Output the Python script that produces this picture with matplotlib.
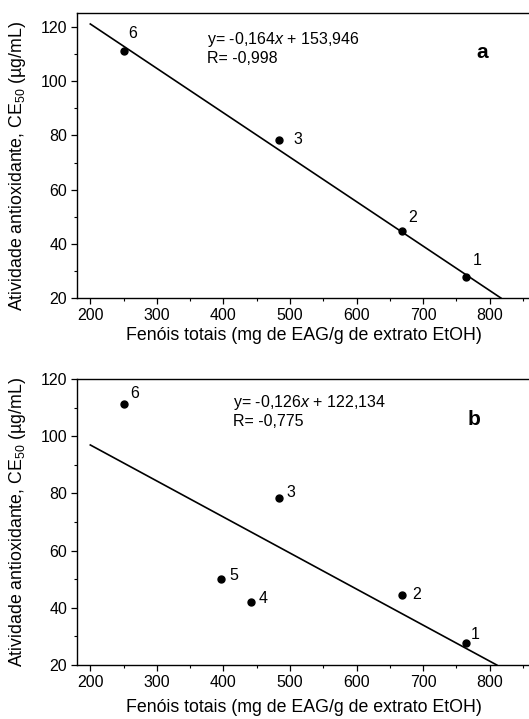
import numpy as np
import matplotlib.pyplot as plt

plt.rcParams['font.family'] = ['Liberation Sans', 'DejaVu Sans']
plt.rcParams['mathtext.fontset'] = 'custom'
plt.rcParams['mathtext.rm'] = 'Liberation Sans'
plt.rcParams['mathtext.it'] = 'Liberation Sans:italic'

# data
ids_a = ['6', '3', '2', '1']
fenois_a = [250, 484, 668, 764]
ce50_a = [111.1, 78.5, 44.6, 27.6]
slope_a, icpt_a = -0.164, 153.946
r_a = '-0,998'

ids_b = ['6', '3', '5', '4', '2', '1']
fenois_b = [250, 484, 396, 441, 668, 764]
ce50_b = [111.1, 78.5, 50.0, 42.1, 44.6, 27.6]
slope_b, icpt_b = -0.126, 122.134
r_b = '-0,775'

xticks = [200, 300, 400, 500, 600, 700, 800]
yticks = [20, 40, 60, 80, 100, 120]

# label centre offsets in points (dx, dy)
offs_a = {'6': (6.5, 13), '3': (13, 0), '2': (8, 10), '1': (8, 12)}
offs_b = {'6': (8, 8), '3': (8.6, 3.4), '5': (9.4, 3), '4': (9, 2.7), '2': (10.6, 0), '1': (6.5, 6)}

W, H = 529, 719
fig = plt.figure(figsize=(W / 100, H / 100), dpi=100)
fig.patch.set_facecolor('white')


def fmt(v):
    return ('%.3f' % v).replace('.', ',')


def panel(rect, ylim, xs, ys, ids, offs, slope, icpt, r, letter, eq_pos, let_pos, xpad, ylab_y):
    ax = fig.add_axes(rect)
    ax.plot(xs, ys, 'o', color='black', ms=5, zorder=3)
    x_end = (ylim[0] - icpt) / slope
    lx = np.array([200, x_end])
    ax.plot(lx, slope * lx + icpt, color='black', lw=1.2)
    for i, x, y in zip(ids, xs, ys):
        ax.annotate(i, (x, y), xytext=offs[i], textcoords='offset points',
                    fontsize=11.5, ha='center', va='center')
    eq = 'y= %s$\\mathit{x}$ + %s\nR= %s' % (fmt(slope), fmt(icpt), r)
    ax.text(eq_pos[0], eq_pos[1], eq, transform=ax.transAxes, fontsize=11.5,
            ha='left', va='top', linespacing=1.15)
    ax.text(let_pos[0], let_pos[1], letter, transform=ax.transAxes, fontsize=15,
            fontweight='bold', ha='center', va='center')
    ax.set_xlim(180, 862)
    ax.set_ylim(*ylim)
    ax.set_xticks(xticks)
    ax.set_yticks(yticks)
    ax.set_xticks(np.arange(250, 862, 100), minor=True)
    ax.set_yticks(np.arange(30, ylim[1], 20), minor=True)
    ax.tick_params(which='major', direction='out', length=4.5, width=0.9, labelsize=11.5, pad=2.5)
    ax.tick_params(which='minor', direction='out', length=2.5, width=0.8)
    for s in ax.spines.values():
        s.set_linewidth(1.0)
    ax.set_xlabel('Fenóis totais (mg de EAG/g de extrato EtOH)', fontsize=12.8, labelpad=xpad)
    ax.set_ylabel('Atividade antioxidante, CE$_{50}$ (µg/mL)', fontsize=12.8)
    ax.yaxis.set_label_coords(-0.108, ylab_y)
    return ax


# axes rectangles in pixels -> figure fraction
def rect(l, t, r, b):
    return [l / W, 1 - b / H, (r - l) / W, (b - t) / H]


panel(rect(77, 13, 531, 298), (20, 125.2), fenois_a, ce50_a, ids_a, offs_a,
      slope_a, icpt_a, r_a, 'a', (0.287, 0.94), (0.892, 0.863), 3, 0.465)
panel(rect(77, 379, 531, 665), (20, 120), fenois_b, ce50_b, ids_b, offs_b,
      slope_b, icpt_b, r_b, 'b', (0.344, 0.95), (0.874, 0.857), 7, 0.5)

fig.savefig('out.png', dpi=100)
